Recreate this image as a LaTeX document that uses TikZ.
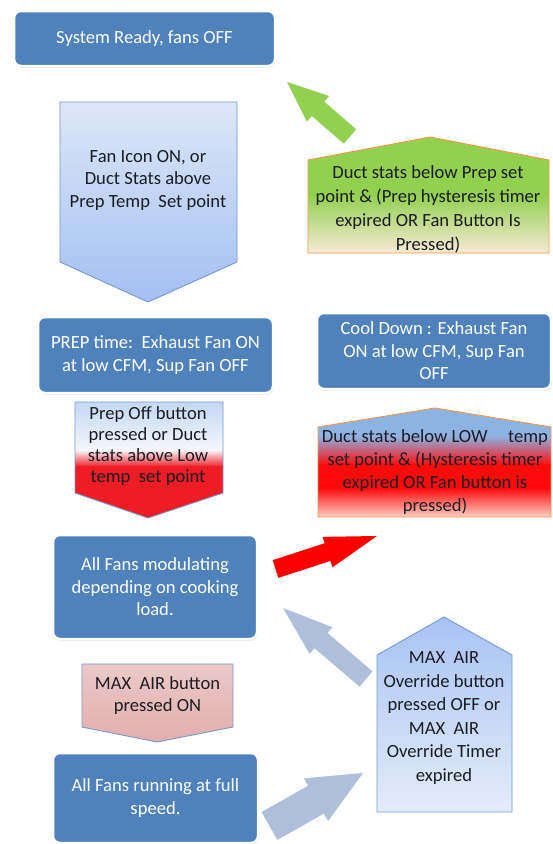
\documentclass[tikz,border=0pt]{standalone}
\usepackage{fontspec}
\setmainfont{Carlito}
\usetikzlibrary{calc,shadows}
\definecolor{boxblue}{HTML}{4F81BD}
\definecolor{pblue}{HTML}{7399D0}
\definecolor{porange}{HTML}{F79646}
\definecolor{ponetop}{HTML}{DDE7F8}
\definecolor{ponebot}{HTML}{A3C0F2}
\definecolor{agreen}{HTML}{92D050}
\definecolor{peach}{HTML}{FDEBDD}
\definecolor{rdtop}{HTML}{C2D6F4}
\definecolor{rdwhite}{HTML}{F6F7FB}
\definecolor{rfill}{HTML}{EE1C24}
\definecolor{rutop}{HTML}{8DB3E2}
\definecolor{rred}{HTML}{FF0A0A}
\definecolor{rpeach}{HTML}{FCE6DA}
\definecolor{mtop}{HTML}{A7C3F3}
\definecolor{mmid}{HTML}{E8BAB8}
\definecolor{mbot}{HTML}{E4ECFA}
\definecolor{btop}{HTML}{ECC9C8}
\definecolor{bbot}{HTML}{E2AEAD}
\definecolor{agray}{HTML}{AEBEDB}
\definecolor{ared}{HTML}{FF0000}
\definecolor{dtext}{HTML}{1C1C24}
\newcommand\blockarrow[6]{%
  \coordinate (#2h) at ($(#2)!#5!(#1)$);
  \fill[#6] ($(#1)!#3!90:(#2)$) -- ($(#2h)!#3!90:(#2)$) -- ($(#2h)!#4!90:(#2)$) -- (#2)
    -- ($(#2h)!#4!-90:(#2)$) -- ($(#2h)!#3!-90:(#2)$) -- ($(#1)!#3!-90:(#2)$) -- cycle;
}
\begin{document}
\begin{tikzpicture}[x=1pt,y=-1pt,
  bluebox/.style={rectangle, rounded corners=7pt, fill=boxblue, draw=white, line width=2.5pt,
    text=white, align=center, font=\fontsize{18.6}{22.5}\selectfont, inner sep=0pt,
    drop shadow={shadow xshift=0.8pt, shadow yshift=-1.6pt, opacity=0.35}},
  ctext/.style={align=center, font=\fontsize{18.6}{22.5}\selectfont, text=dtext, inner sep=0pt},
  pborder/.style={line width=0.9pt, line join=miter}]
\useasboundingbox (0,0) rectangle (552,844);

% --- condition shapes ---
\path[pborder, top color=ponetop, bottom color=ponebot, draw=pblue]
  (60,102) -- (237,102) -- (237,262) -- (148,302) -- (60,262) -- cycle;
\begin{scope}
  \clip (308,253) -- (308,160) -- (430,137) -- (549,160) -- (549,253) -- cycle;
  \fill[agreen] (300,130) rectangle (555,196);
  \shade[top color=agreen, bottom color=peach] (300,195) rectangle (555,256);
\end{scope}
\draw[pborder, draw=porange] (308,253) -- (308,160) -- (430,137) -- (549,160) -- (549,253) -- cycle;
\begin{scope}
  \clip (75,402) -- (223,402) -- (223,493) -- (148,518) -- (75,493) -- cycle;
  \shade[top color=rdtop, bottom color=rdwhite] (70,400) rectangle (230,451);
  \shade[top color=rdwhite, bottom color=rfill] (70,450) rectangle (230,467);
  \fill[rfill] (70,466) rectangle (230,520);
\end{scope}
\draw[pborder, draw=pblue] (75,402) -- (223,402) -- (223,493) -- (148,518) -- (75,493) -- cycle;
\begin{scope}
  \clip (318,517) -- (318,427) -- (435,408) -- (551,427) -- (551,517) -- cycle;
  \fill[rutop] (310,405) rectangle (555,437);
  \shade[top color=rutop, bottom color=rred] (310,436) rectangle (555,465);
  \fill[rred] (310,464) rectangle (555,489);
  \shade[top color=rred, bottom color=rpeach] (310,488) rectangle (555,520);
\end{scope}
\draw[pborder, draw=porange] (318,517) -- (318,427) -- (435,408) -- (551,427) -- (551,517) -- cycle;
\path[pborder, top color=mtop, middle color=mmid, bottom color=mbot, draw=pblue]
  (377,812) -- (377,655) -- (444,617) -- (512,655) -- (512,812) -- cycle;
\path[pborder, top color=btop, bottom color=bbot, draw=pblue]
  (82,664) -- (233,664) -- (233,727) -- (157,742) -- (82,727) -- cycle;

% --- condition texts ---
\node[ctext] (c1) at (148,180) {Fan Icon ON, or\\Duct Stats above\\Prep Temp\ \ Set point};
\node[ctext, font=\fontsize{18.6}{24}\selectfont] (c2) at (428,209.5) {Duct stats below Prep set\\point \& (Prep hysteresis timer\\expired OR Fan Button Is\\Pressed)};
\node[ctext, font=\fontsize{18.6}{21}\selectfont] (c3) at (148,446.5) {Prep Off button\\pressed or Duct\\stats above Low\\temp\ \ set point};
\node[ctext, font=\fontsize{18.6}{23.3}\selectfont] (c4) at (435,472) {Duct stats below LOW\hspace{1.1em}temp\\set point \& (Hysteresis timer\\expired OR Fan button is\\pressed)};
\node[ctext, font=\fontsize{18.6}{23.6}\selectfont] (c5) at (444,718) {MAX\ \ AIR\\Override button\\pressed OFF or\\MAX\ \ AIR\\Override Timer\\expired};
\node[ctext, font=\fontsize{18.6}{22}\selectfont] (c6) at (157.5,696) {MAX\ \ AIR button\\pressed ON};

% --- state boxes ---
\node[bluebox, minimum width=261pt, minimum height=55pt] (ready) at (144.5,38.5) {System Ready, fans OFF};
\node[bluebox, minimum width=235pt, minimum height=76pt] (prep) at (155.5,355) {PREP time:\ \ Exhaust Fan ON\\at low CFM, Sup Fan OFF};
\node[bluebox, minimum width=234pt, minimum height=76pt] (cool) at (434,351) {Cool Down : Exhaust Fan\\ON at low CFM, Sup Fan\\OFF};
\node[bluebox, minimum width=204pt, minimum height=104pt] (modul) at (155,587) {All Fans modulating\\depending on cooking\\load.};
\node[bluebox, minimum width=205pt, minimum height=90pt] (full) at (155.5,798) {All Fans running at full\\speed.};

% --- block arrows ---
\coordinate (gT) at (350,136.5); \coordinate (gH) at (287,82);
\coordinate (rT) at (275.5,569); \coordinate (rH) at (377,536);
\coordinate (bT) at (366,679);   \coordinate (bH) at (283,608);
\coordinate (fT) at (269.5,826); \coordinate (fH) at (363,773);
\blockarrow{gT}{gH}{9.5pt}{17pt}{41pt}{agreen}
\blockarrow{rT}{rH}{9.3pt}{16pt}{52pt}{ared}
\blockarrow{bT}{bH}{10pt}{17.5pt}{50pt}{agray}
\blockarrow{fT}{fH}{16pt}{24.5pt}{54pt}{agray}
\end{tikzpicture}
\end{document}
